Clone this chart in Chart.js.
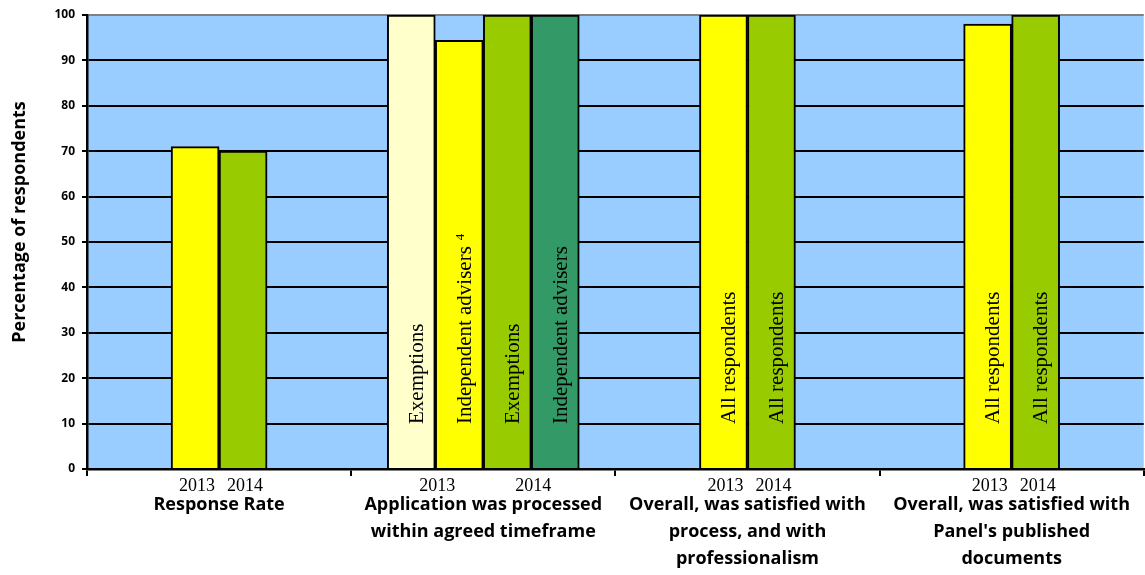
<!DOCTYPE html>
<html>
<head>
<meta charset="utf-8">
<script src="https://cdn.jsdelivr.net/npm/chart.js@4/dist/chart.umd.min.js"></script>
<style>
  html, body { margin: 0; padding: 0; background: #ffffff; }
  canvas { display: block; }
</style>
</head>
<body>
<canvas id="chart" width="1145" height="575"></canvas>
<script>
// Survey questions along the x axis (multi-line labels)
const categories = [
  ['Response Rate'],
  ['Application was processed', 'within agreed timeframe'],
  ['Overall, was satisfied with', 'process, and with', 'professionalism'],
  ['Overall, was satisfied with', "Panel's published", 'documents']
];
const years = ['2013', '2014'];
const yTicks = [0, 10, 20, 30, 40, 50, 60, 70, 80, 90, 100];
const yTitle = 'Percentage of respondents';

// Percentage of respondents per question
const all2013         = [71, null, 100, 98];
const exemptions2013  = [null, 100, null, null];
const advisers2013    = [null, 94.4, null, null];
const all2014         = [70, null, 100, 100];
const exemptions2014  = [null, 100, null, null];
const advisers2014    = [null, 100, null, null];

// Text written inside each bar
const allText        = ['', '', 'All respondents', 'All respondents'];
const exemptionsText = ['', 'Exemptions', '', ''];
const advisersText   = ['', 'Independent advisers', '', ''];
const advisersNote2013 = ['', '4', '', ''];

const datasets = [
  { label: 'All respondents 2013', year: '2013', data: all2013, inside: allText, backgroundColor: '#FFFF00' },
  { label: 'Exemptions 2013', year: '2013', data: exemptions2013, inside: exemptionsText, backgroundColor: '#FFFFCC' },
  { label: 'Independent advisers 2013', year: '2013', data: advisers2013, inside: advisersText, note: advisersNote2013, backgroundColor: '#FFFF00' },
  { label: 'All respondents 2014', year: '2014', data: all2014, inside: allText, backgroundColor: '#99CC00' },
  { label: 'Exemptions 2014', year: '2014', data: exemptions2014, inside: exemptionsText, backgroundColor: '#99CC00' },
  { label: 'Independent advisers 2014', year: '2014', data: advisers2014, inside: advisersText, backgroundColor: '#339966' }
];

const SANS = '"Open Sans", "DejaVu Sans", sans-serif';
const SERIF = '"Liberation Serif", "Times New Roman", serif';

// Light blue plot background
const plotBackground = {
  id: 'plotBackground',
  beforeDraw(chart) {
    const { ctx, chartArea: a } = chart;
    ctx.save();
    ctx.fillStyle = '#99CCFF';
    ctx.fillRect(a.left, a.top, a.right - a.left, a.bottom - a.top);
    ctx.restore();
  }
};

// Vertical captions inside bars, year labels under them, and the y-axis title
const barCaptions = {
  id: 'barCaptions',
  afterDatasetsDraw(chart) {
    const { ctx, scales } = chart;
    const base = scales.y.getPixelForValue(0);
    chart.data.datasets.forEach((ds, di) => {
      const meta = chart.getDatasetMeta(di);
      meta.data.forEach((bar, i) => {
        const txt = ds.inside && ds.inside[i];
        if (!txt || ds.data[i] == null) return;
        ctx.save();
        ctx.translate(bar.x + 6, base - 45);
        ctx.rotate(-Math.PI / 2);
        ctx.fillStyle = '#000';
        ctx.textAlign = 'left';
        ctx.textBaseline = 'middle';
        ctx.font = '21px ' + SERIF;
        ctx.fillText(txt, 0, 0);
        if (ds.note && ds.note[i]) {
          const w = ctx.measureText(txt).width;
          ctx.font = '13px ' + SERIF;
          ctx.fillText(ds.note[i], w + 6, -5);
        }
        ctx.restore();
      });
    });

    // year labels centred under the bars of each year
    ctx.save();
    ctx.fillStyle = '#000';
    ctx.font = '18px ' + SERIF;
    ctx.textAlign = 'center';
    ctx.textBaseline = 'middle';
    categories.forEach((c, i) => {
      years.forEach(yr => {
        const xs = [];
        chart.data.datasets.forEach((ds, di) => {
          if (ds.year === yr && ds.data[i] != null) xs.push(chart.getDatasetMeta(di).data[i].x);
        });
        if (!xs.length) return;
        const x = xs.reduce((s, v) => s + v, 0) / xs.length;
        ctx.fillText(yr, x + 2, base + 17);
      });
    });
    ctx.restore();

    // y-axis title, set a little above the middle of the axis
    const midY = (scales.y.top + scales.y.bottom) / 2 - 20;
    ctx.save();
    ctx.translate(20, midY);
    ctx.rotate(-Math.PI / 2);
    ctx.fillStyle = '#000';
    ctx.font = 'bold 18px ' + SANS;
    ctx.textAlign = 'center';
    ctx.textBaseline = 'middle';
    ctx.fillText(yTitle, 0, 0);
    ctx.restore();
  }
};

new Chart(document.getElementById('chart'), {
  type: 'bar',
  data: { labels: categories, datasets },
  options: {
    responsive: false,
    animation: false,
    layout: { padding: { top: 15, right: 0, bottom: 0, left: 0 } },
    datasets: {
      bar: {
        barThickness: 48,
        skipNull: true,
        borderColor: '#000000',
        borderWidth: 2,
        borderSkipped: 'start'
      }
    },
    plugins: {
      legend: { display: false },
      tooltip: { enabled: false }
    },
    scales: {
      x: {
        type: 'category',
        offset: true,
        z: 1,
        grid: {
          offset: true,
          drawOnChartArea: false,
          drawTicks: true,
          tickLength: 7,
          color: '#000000',
          lineWidth: 2
        },
        border: { display: true, color: '#000000', width: 2.5 },
        ticks: {
          color: '#000000',
          padding: 15,
          maxRotation: 0,
          autoSkip: false,
          font: { family: SANS, size: 18, weight: 'bold', lineHeight: '27px' }
        },
        afterFit(scale) { scale.height = 106; }
      },
      y: {
        min: 0,
        max: 100,
        afterBuildTicks(scale) { scale.ticks = yTicks.map(v => ({ value: v })); },
        ticks: {
          color: '#000000',
          padding: 7,
          font: { family: SANS, size: 12, weight: 'bold' }
        },
        grid: {
          color: ctx => (ctx.tick && ctx.tick.value === 100 ? '#808080' : '#000000'),
          tickColor: '#000000',
          lineWidth: 2,
          drawTicks: true,
          tickLength: 5
        },
        border: { display: true, color: '#000000', width: 2.5 },
        afterFit(scale) { scale.width = 87; }
      }
    }
  },
  plugins: [plotBackground, barCaptions]
});
</script>
</body>
</html>
